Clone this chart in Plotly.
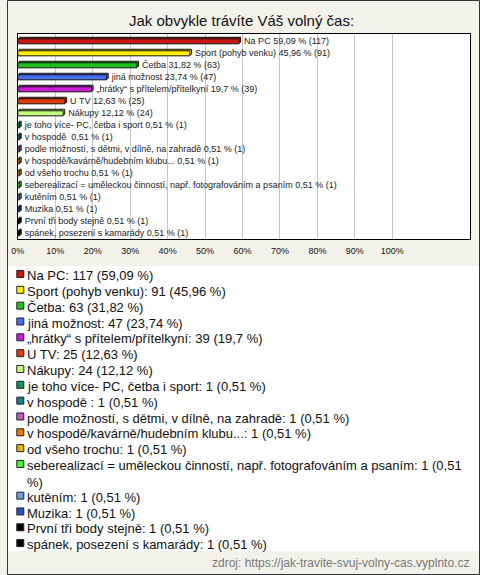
import plotly.graph_objects as go

W, H = 480, 575

title = "Jak obvykle trávíte Váš volný čas:"
source = "zdroj: https://jak-travite-svuj-volny-cas.vyplnto.cz"
total = 198

categories = [
    "Na PC",
    "Sport (pohyb venku)",
    "Četba",
    "jiná možnost",
    "„hrátky“ s přítelem/přítelkyní",
    "U TV",
    "Nákupy",
    "je toho více- PC, četba i sport",
    "v hospodě ",
    "podle možností, s dětmi, v dílně, na zahradě",
    "v hospodě/kavárně/hudebním klubu...",
    "od všeho trochu",
    "seberealizací = uměleckou činností, např. fotografováním a psaním",
    "kutěním",
    "Muzika",
    "První tři body stejně",
    "spánek, posezení s kamarády",
]
counts = [117, 91, 63, 47, 39, 25, 24, 1, 1, 1, 1, 1, 1, 1, 1, 1, 1]
colors = [
    "#c8180f", "#ffee00", "#1ec11e", "#4a6cf0", "#c81ed6", "#e03a0a", "#c4ff7a",
    "#14965a", "#1d7a8a", "#c05ec0", "#e8790a", "#e6b010", "#4ef034",
    "#6f9ae0", "#2a52c0", "#000000", "#000000",
]
tick_vals = [0, 10, 20, 30, 40, 50, 60, 70, 80, 90, 100]
tick_text = [f"{v}%" for v in tick_vals]


def fmt_pct(v):
    s = f"{v:.2f}".rstrip("0").rstrip(".")
    return s.replace(".", ",")


def wrap(s, limit=75):
    if len(s) <= limit:
        return s, 1
    cut = s.rfind(" ", 0, limit)
    return s[:cut] + "<br>" + s[cut + 1:], 2


pcts = [c / total * 100 for c in counts]
pct_txt = [fmt_pct(p) for p in pcts]
bar_labels = ["\u00a0\u00a0" + f"{c} {p} % ({n})" for c, p, n in zip(categories, pct_txt, counts)]
legend_raw = [f"{c}: {n} ({p} %)" for c, p, n in zip(categories, pct_txt, counts)]

rows = list(range(len(categories)))

plot_left, plot_right = 11, 470
plot_top, plot_bot = 33.5, 239.3
px_per_pct = 3.8
row_px = (plot_bot - plot_top) / (len(categories) + 0.15)

bar_w = 0.42
depth_px = 1.5  # 3D depth of the bars

# back face (gives the 3-D look)
fig = go.Figure()
fig.add_trace(go.Bar(
    x=pcts, y=rows, orientation="h", width=bar_w,
    base=depth_px / px_per_pct, offset=-bar_w / 2 - depth_px / row_px,
    marker=dict(color=colors, line=dict(color="#111111", width=1)),
    hoverinfo="skip", xaxis="x", yaxis="y",
))
# front face
fig.add_trace(go.Bar(
    x=pcts, y=rows, orientation="h", width=bar_w, offset=-bar_w / 2,
    marker=dict(color=colors, line=dict(color="#111111", width=1)),
    text=bar_labels, textposition="outside", constraintext="none",
    textfont=dict(size=9, color="#222222", family="Liberation Sans, Arial, sans-serif"),
    cliponaxis=False, hoverinfo="skip", xaxis="x", yaxis="y",
))

# legend (drawn in a hidden second axis, one unit per text line)
line_idx = []
legend_txt = []
cur = 0
for s in legend_raw:
    t, n = wrap(s)
    legend_txt.append(t)
    line_idx.append(cur)
    cur += n
n_lines = cur

fig.add_trace(go.Scatter(
    x=[13.5] * len(line_idx), y=line_idx, mode="markers",
    marker=dict(symbol="square", size=7, color=colors, line=dict(color="#222222", width=1)),
    xaxis="x2", yaxis="y2", hoverinfo="skip", cliponaxis=False,
))

annotations = []
for t, li in zip(legend_txt, line_idx):
    annotations.append(dict(
        x=18.5, y=li - 0.5, xref="x2", yref="y2", text=t, showarrow=False,
        xanchor="left", yanchor="top", align="left",
        font=dict(size=13, color="#111111", family="Liberation Sans, Arial, sans-serif"),
    ))
annotations.append(dict(
    x=(W - 9) / W, y=1 - 563 / H, xref="paper", yref="paper", text=source, showarrow=False,
    xanchor="right", yanchor="middle",
    font=dict(size=12, color="#777777", family="Liberation Sans, Arial, sans-serif"),
))
annotations.append(dict(
    x=238 / W, y=1 - 20.5 / H, xref="paper", yref="paper", text=title, showarrow=False,
    xanchor="center", yanchor="middle",
    font=dict(size=15, color="#111111", family="Liberation Sans, Arial, sans-serif"),
))

pitch = 15.83
leg_top = 274 - pitch / 2
leg_bot = leg_top + pitch * n_lines

fig.update_layout(
    width=W, height=H,
    margin=dict(l=0, r=0, t=0, b=0),
    paper_bgcolor="#f3f2ea", plot_bgcolor="#ffffff",
    showlegend=False, barmode="overlay",
    font=dict(family="Liberation Sans, Arial, sans-serif", color="#111111"),
    xaxis=dict(
        domain=[plot_left / W, plot_right / W],
        range=[0, (plot_right - plot_left) / px_per_pct],
        tickvals=tick_vals, ticktext=tick_text,
        showgrid=True, gridcolor="#c8c8c8", gridwidth=1,
        zeroline=False, showline=True, linecolor="#000000", linewidth=1, mirror=True,
        ticks="outside", ticklen=3, tickcolor="rgba(0,0,0,0)",
        tickfont=dict(size=9, color="#111111"), fixedrange=True,
    ),
    yaxis=dict(
        domain=[1 - plot_bot / H, 1 - plot_top / H],
        range=[len(categories) - 0.5, -0.65],
        showticklabels=False, showgrid=False, zeroline=False,
        showline=True, linecolor="#000000", linewidth=1, mirror=True, fixedrange=True,
    ),
    xaxis2=dict(domain=[0, 1], range=[0, W], visible=False, anchor="y2", fixedrange=True),
    yaxis2=dict(domain=[1 - leg_bot / H, 1 - leg_top / H], range=[n_lines - 0.5, -0.5],
                visible=False, anchor="x2", fixedrange=True),
    annotations=annotations,
    shapes=[dict(type="rect", xref="paper", yref="paper",
                 x0=0.5 / W, x1=1 - 0.5 / W, y0=0.5 / H, y1=1 - 0.5 / H,
                 line=dict(color="#333333", width=1), fillcolor="rgba(0,0,0,0)", layer="above")],
)

fig.write_html("out.html", config={"displayModeBar": False},
               post_script="document.body.style.margin='0';")
